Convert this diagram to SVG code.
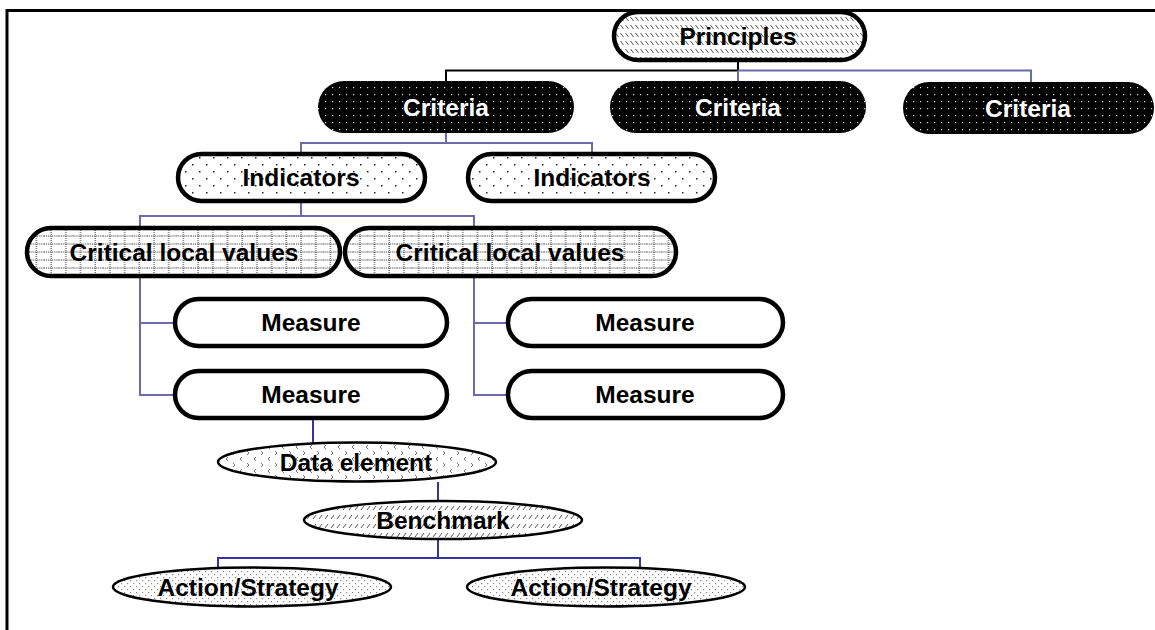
<svg xmlns="http://www.w3.org/2000/svg" width="1155" height="630" viewBox="0 0 1155 630">
<style>
.t{font-family:"Liberation Sans",Arial,sans-serif;font-weight:bold;font-size:24.5px;text-anchor:middle;fill:#000}
.w{fill:#fff}
.pill{stroke:#000;stroke-width:4.5}
.ell{stroke:#000;stroke-width:2.5}
.cp{fill:none;stroke:#6B6BAA;stroke-width:2}
.cb{fill:none;stroke:#3535A0;stroke-width:2}
.ck{fill:none;stroke:#000;stroke-width:2}
</style>
<defs>
<pattern id="pHatch" width="5" height="8" patternUnits="userSpaceOnUse">
<rect width="5" height="8" fill="#fff"/>
<line x1="0.5" y1="1" x2="3.5" y2="5" stroke="#555" stroke-width="1"/>
</pattern>
<pattern id="pBlackDots" width="7" height="7" patternUnits="userSpaceOnUse">
<rect width="7" height="7" fill="#000"/>
<rect x="3" y="3" width="1.2" height="1.2" fill="#ddd"/>
</pattern>
<pattern id="pSparse" width="14" height="14" patternUnits="userSpaceOnUse">
<rect width="14" height="14" fill="#fff"/>
<rect x="3" y="3" width="1.5" height="1.5" fill="#222"/>
<rect x="10" y="10" width="1.5" height="1.5" fill="#222"/>
</pattern>
<pattern id="pGrid" width="14.7" height="8" patternUnits="userSpaceOnUse">
<rect width="14.7" height="8" fill="#fff"/>
<line x1="0" y1="4" x2="14.7" y2="4" stroke="#333" stroke-width="1" stroke-dasharray="1 1"/>
<line x1="7" y1="0" x2="7" y2="8" stroke="#333" stroke-width="1" stroke-dasharray="1 1"/>
</pattern>
<pattern id="pChevron" width="14" height="12" patternUnits="userSpaceOnUse">
<rect width="14" height="12" fill="#fff"/>
<polyline points="4,1 2,3 4,5" fill="none" stroke="#666" stroke-width="0.9"/>
<polyline points="9,7 11,9 9,11" fill="none" stroke="#666" stroke-width="0.9"/>
</pattern>
<pattern id="pSlash" width="6" height="9" patternUnits="userSpaceOnUse">
<rect width="6" height="9" fill="#fff"/>
<line x1="1" y1="6" x2="4" y2="2" stroke="#555" stroke-width="1"/>
</pattern>
<pattern id="pFine" width="6" height="6" patternUnits="userSpaceOnUse">
<rect width="6" height="6" fill="#fff"/>
<rect x="1" y="1" width="1.2" height="1.2" fill="#888"/>
<rect x="4" y="4" width="1.2" height="1.2" fill="#888"/>
</pattern>
</defs>
<rect width="1155" height="630" fill="#fff"/>
<path d="M7,630 V10.5 H1160" fill="none" stroke="#000" stroke-width="3"/>
<g id="connectors">
<path class="ck" d="M446,81 V70.5 H738 V62"/>
<path class="cp" d="M738,70.5 V81 M738,70.5 H1031 V82"/>
<path class="cp" d="M446,133 V143 M301,154 V143 H592 V154"/>
<path class="cp" d="M301,203 V216 M140,228 V216 H474 V228"/>
<path class="cp" d="M140,278 V395 H175 M140,323 H175"/>
<path class="cp" d="M474,278 V395 H508 M474,323 H508"/>
<path class="cb" d="M313,420 V443"/>
<path class="cb" d="M438,482 V501"/>
<path class="cb" d="M438,539 V558 M218,568 V558 H640 V568"/>
</g>
<g id="principles">
<rect class="pill" x="614" y="12" width="251" height="48" rx="24" fill="url(#pHatch)"/>
<text class="t" x="738" y="45">Principles</text>
</g>
<g id="criteria1">
<rect x="318" y="81" width="256" height="52" rx="26" fill="url(#pBlackDots)"/>
<text class="t w" x="446" y="116">Criteria</text>
</g>
<g id="criteria2">
<rect x="610" y="81" width="256" height="52" rx="26" fill="url(#pBlackDots)"/>
<text class="t w" x="738" y="116">Criteria</text>
</g>
<g id="criteria3">
<rect x="903" y="82" width="251" height="52" rx="26" fill="url(#pBlackDots)"/>
<text class="t w" x="1028" y="117">Criteria</text>
</g>
<g id="indicators1">
<rect class="pill" x="178" y="154" width="247" height="47" rx="23.5" fill="url(#pSparse)"/>
<text class="t" x="301" y="186">Indicators</text>
</g>
<g id="indicators2">
<rect class="pill" x="468" y="154" width="247" height="47" rx="23.5" fill="url(#pSparse)"/>
<text class="t" x="592" y="186">Indicators</text>
</g>
<g id="critical1">
<rect class="pill" x="27" y="228" width="313" height="48" rx="24" fill="url(#pGrid)"/>
<text class="t" x="184" y="261">Critical local values</text>
</g>
<g id="critical2">
<rect class="pill" x="345" y="228" width="331" height="48" rx="24" fill="url(#pGrid)"/>
<text class="t" x="510" y="261">Critical local values</text>
</g>
<g id="measure1">
<rect class="pill" x="175" y="299" width="272" height="47" rx="23.5" fill="#fff"/>
<text class="t" x="311" y="331">Measure</text>
</g>
<g id="measure2">
<rect class="pill" x="175" y="371" width="272" height="47" rx="23.5" fill="#fff"/>
<text class="t" x="311" y="403">Measure</text>
</g>
<g id="measure3">
<rect class="pill" x="508" y="299" width="275" height="47" rx="23.5" fill="#fff"/>
<text class="t" x="645" y="331">Measure</text>
</g>
<g id="measure4">
<rect class="pill" x="508" y="371" width="275" height="47" rx="23.5" fill="#fff"/>
<text class="t" x="645" y="403">Measure</text>
</g>
<g id="dataelement">
<ellipse class="ell" cx="357" cy="462" rx="139" ry="19.5" fill="url(#pChevron)"/>
<text class="t" x="356" y="471">Data element</text>
</g>
<g id="benchmark">
<ellipse class="ell" cx="443" cy="520" rx="139" ry="19" fill="url(#pSlash)"/>
<text class="t" x="443" y="529">Benchmark</text>
</g>
<g id="action1">
<ellipse class="ell" cx="252" cy="587" rx="139" ry="19.5" fill="url(#pFine)"/>
<text class="t" x="248" y="596">Action/Strategy</text>
</g>
<g id="action2">
<ellipse class="ell" cx="606" cy="587" rx="139" ry="19.5" fill="url(#pFine)"/>
<text class="t" x="601" y="596">Action/Strategy</text>
</g>
</svg>
